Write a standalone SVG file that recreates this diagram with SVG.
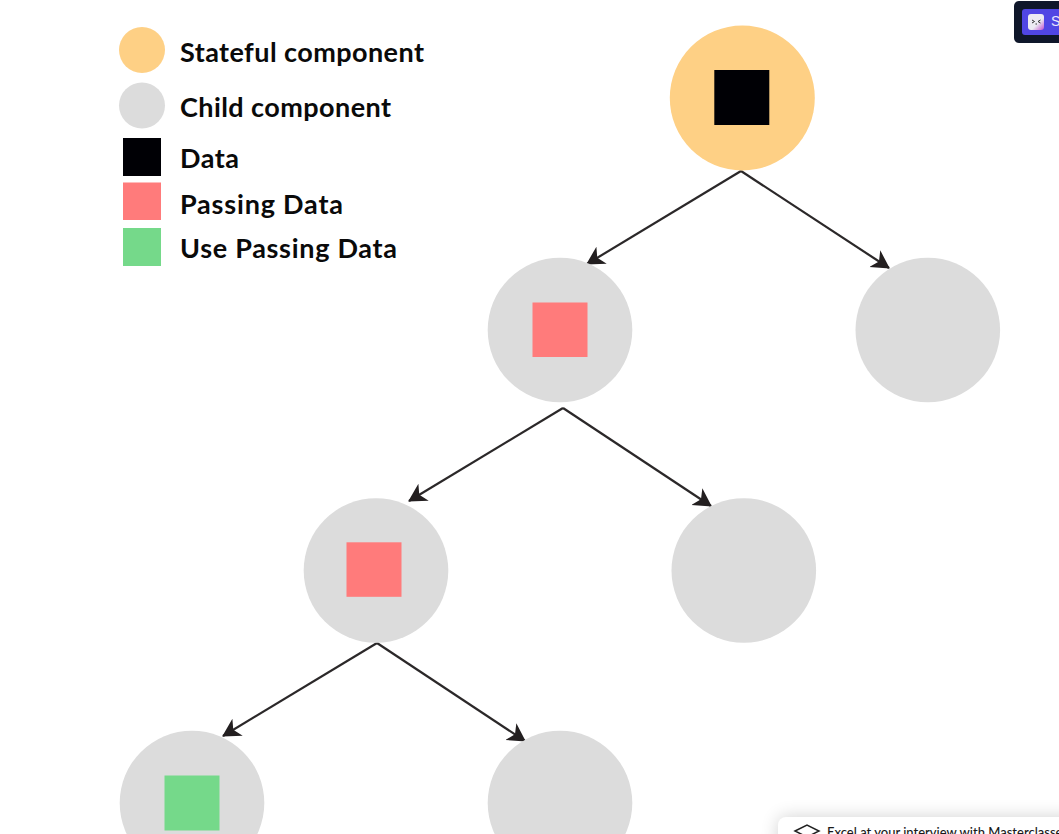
<svg xmlns="http://www.w3.org/2000/svg" width="1059" height="834" viewBox="0 0 1059 834">
<style>
.orange{fill:#fed085}
.grey{fill:#dcdcdc}
.black{fill:#000005}
.red{fill:#ff7b7b}
.green{fill:#75d98a}
.lbl{font-family:"Lato","Noto Sans",sans-serif;font-weight:700;font-size:27px;fill:#0a0a0a}
.edge{stroke:#2b2829;stroke-width:2.2;fill:none;marker-end:url(#arrow)}
</style>
<defs>
<marker id="arrow" markerUnits="userSpaceOnUse" markerWidth="22" markerHeight="24" refX="17" refY="12" orient="auto">
<path d="M0 2L18 12L0 22L5 12Z" fill="#231f20"/>
</marker>
<linearGradient id="ic" x1="0" y1="0" x2="1" y2="1"><stop offset="0.6" stop-color="#ecebf3"/><stop offset="1" stop-color="#c04fd0"/></linearGradient>
<filter id="sh" x="-20%" y="-100%" width="140%" height="300%"><feGaussianBlur stdDeviation="9"/></filter>
</defs>
<rect width="1059" height="834" fill="#fff"/>
<g id="legend">
<circle class="orange" cx="142" cy="50" r="23"/>
<circle class="grey" cx="142" cy="105.500" r="23"/>
<rect class="black" x="123" y="138" width="38" height="38"/>
<rect class="red" x="123" y="182.500" width="38" height="37.500"/>
<rect class="green" x="123" y="228" width="38" height="38"/>
<text class="lbl" x="180" y="62" textLength="244" lengthAdjust="spacing">Stateful component</text>
<text class="lbl" x="180" y="117" textLength="211" lengthAdjust="spacing">Child component</text>
<text class="lbl" x="180" y="168" textLength="59" lengthAdjust="spacing">Data</text>
<text class="lbl" x="180" y="214" textLength="163" lengthAdjust="spacing">Passing Data</text>
<text class="lbl" x="180" y="258" textLength="217" lengthAdjust="spacing">Use Passing Data</text>
</g>
<g id="connectors">
<path class="edge" d="M741 171L587 264"/>
<path class="edge" d="M741 171L889 268"/>
<path class="edge" d="M563 408L409 501"/>
<path class="edge" d="M563 408L711 506"/>
<path class="edge" d="M377 643L223 736"/>
<path class="edge" d="M377 643L525 741"/>
</g>
<g id="node-root"><circle class="orange" cx="742.300" cy="98" r="72.500"/><rect class="black" x="714.300" y="70" width="55" height="55"/></g>
<g id="node-a"><circle class="grey" cx="560" cy="330" r="72.300"/><rect class="red" x="532.500" y="302.500" width="55" height="54.500"/></g>
<g id="node-b"><circle class="grey" cx="927.800" cy="330" r="72.300"/></g>
<g id="node-c"><circle class="grey" cx="376" cy="570.500" r="72.300"/><rect class="red" x="346.500" y="542.300" width="55" height="54.500"/></g>
<g id="node-d"><circle class="grey" cx="743.800" cy="570.500" r="72.300"/></g>
<g id="node-e"><circle class="grey" cx="192" cy="803" r="72.300"/><rect class="green" x="164.500" y="775.500" width="55" height="55"/></g>
<g id="node-f"><circle class="grey" cx="560" cy="803" r="72.300"/></g>
<g id="badge">
<rect x="1014" y="1" width="70" height="42" rx="5" fill="#0f172a"/>
<rect x="1022" y="9" width="60" height="26" rx="3" fill="#5046e4"/>
<rect x="1028" y="14" width="16" height="16" rx="3" fill="url(#ic)"/>
<path d="M1032 20L1034.500 21.500L1032 23M1040.500 20L1038 21.500L1040.500 23M1035.500 24H1037" fill="none" stroke="#333" stroke-width="1"/>
<text x="1051" y="26" font-family="'Liberation Sans',sans-serif" font-size="14" fill="#e8e8ff">S</text>
</g>
<g id="card">
<rect x="778" y="817" width="300" height="40" rx="8" fill="#000" opacity="0.18" filter="url(#sh)"/>
<rect x="778" y="817" width="300" height="40" rx="8" fill="#fff"/>
<path d="M795 831L807 825L819 831L807 837Z" fill="none" stroke="#222" stroke-width="1.500"/>
<text x="827" y="836.500" font-family="Lato,'Liberation Sans',sans-serif" font-size="13" font-weight="500" fill="#1a1a1a">Excel at your interview with Masterclasses</text>
</g>
</svg>
